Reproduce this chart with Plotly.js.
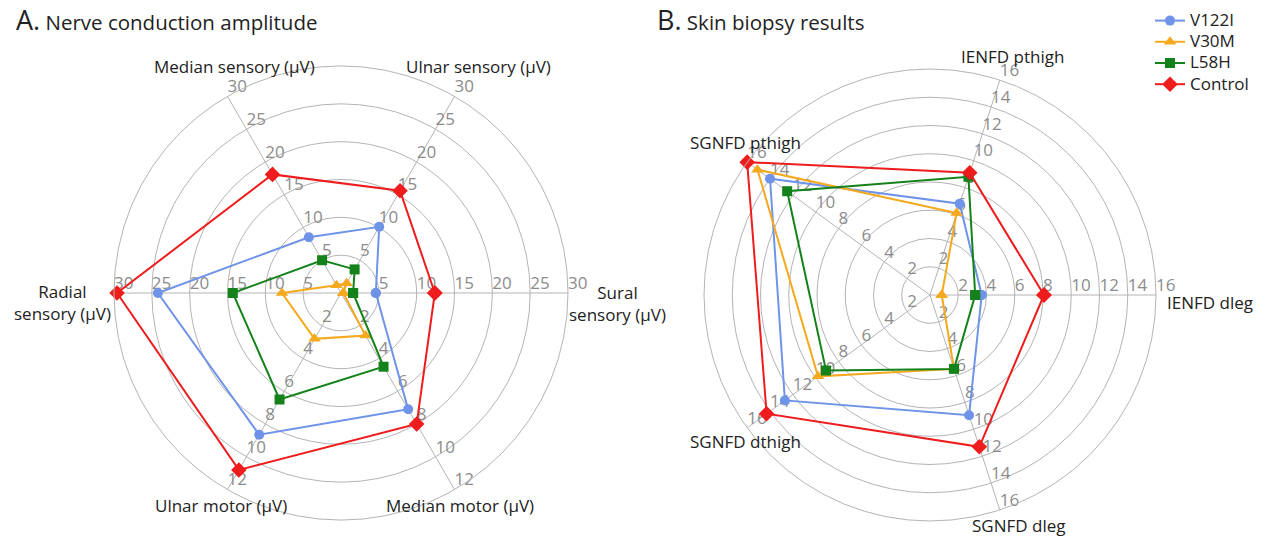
<!DOCTYPE html>
<html>
<head>
<meta charset="utf-8">
<script src="https://cdn.plot.ly/plotly-3.0.1.min.js"></script>
<style>html,body{margin:0;padding:0;background:#fff;}#chart{width:1267px;height:540px;}</style>
</head>
<body>
<div id="chart"></div>
<script>
// ---------- DATA ----------
// Panel A: Nerve conduction amplitude
const axesA = ['Sural sensory (µV)', 'Ulnar sensory (µV)', 'Median sensory (µV)', 'Radial sensory (µV)', 'Ulnar motor (µV)', 'Median motor (µV)'];
const maxA = [30, 30, 30, 30, 12, 12];
const ticksSensory = [5, 10, 15, 20, 25, 30];
const ticksMotor = [2, 4, 6, 8, 10, 12];
const V122I_A = [4.6, 10.1, 8.5, 24.2, 8.65, 7.1];
const V30M_A = [0.3, 1.5, 1.2, 7.8, 2.8, 2.6];
const L58H_A = [1.6, 3.6, 5.0, 14.3, 6.5, 4.5];
const Control_A = [12.4, 15.6, 18.1, 29.6, 10.8, 8.0];

// Panel B: Skin biopsy results
const axesB = ['IENFD dleg', 'IENFD pthigh', 'SGNFD pthigh', 'SGNFD dthigh', 'SGNFD dleg'];
const maxB = [16, 16, 16, 16, 16];
const ticksB = [2, 4, 6, 8, 10, 12, 14, 16];
const V122I_B = [3.66, 6.8, 14.0, 12.7, 8.95];
const V30M_B = [0.83, 6.1, 15.1, 9.8, 5.5];
const L58H_B = [3.2, 8.8, 12.5, 9.1, 5.5];
const Control_B = [8.07, 9.1, 16.0, 14.3, 11.3];

const seriesNames = ['V122I', 'V30M', 'L58H', 'Control'];

// ---------- STYLE ----------
const colors = ['#6f93e8', '#f5a91f', '#14821a', '#ee1c1c'];
const symbols = ['circle', 'triangle-up', 'square', 'diamond'];
const msize = [10, 11, 10, 12];
const gridColor = '#b4b4b4';
const tickColor = '#8c8c8c';
const FONT = 'Open Sans, Noto Sans, sans-serif';

const ringsA = 6, ringsB = 8;
const anglesA = axesA.map((_, i) => i * 360 / axesA.length);
const anglesB = axesB.map((_, i) => i * 360 / axesB.length);

function norm(vals, maxs, rings) { return vals.map((v, i) => v / maxs[i] * rings); }
function close(a) { return a.concat([a[0]]); }

const traces = [];
const dataA = [V122I_A, V30M_A, L58H_A, Control_A];
const dataB = [V122I_B, V30M_B, L58H_B, Control_B];

// tick label traces
function tickTrace(subplot, angles, tickSets, maxs, rings) {
  const r = [], th = [], tx = [];
  angles.forEach((ang, i) => {
    tickSets[i].forEach(t => { r.push(t / maxs[i] * rings); th.push(ang); tx.push(String(t)); });
  });
  return {type: 'scatterpolar', subplot: subplot, mode: 'text', r: r, theta: th, text: tx,
    textposition: 'top right', textfont: {family: FONT, size: 17, color: tickColor},
    hoverinfo: 'skip', showlegend: false, cliponaxis: false};
}
traces.push(tickTrace('polar', anglesA, [ticksSensory, ticksSensory, ticksSensory, ticksSensory, ticksMotor, ticksMotor], maxA, ringsA));
traces.push(tickTrace('polar2', anglesB, axesB.map(() => ticksB), maxB, ringsB));

seriesNames.forEach((name, k) => {
  traces.push({type: 'scatterpolar', subplot: 'polar', name: '<span style="font-size:17px">' + name + '</span>',
    mode: 'lines+markers',
    r: close(norm(dataA[k], maxA, ringsA)), theta: close(anglesA),
    line: {color: colors[k], width: 2}, marker: {color: colors[k], symbol: symbols[k], size: msize[k]},
    cliponaxis: false, showlegend: true});
});
seriesNames.forEach((name, k) => {
  traces.push({type: 'scatterpolar', subplot: 'polar2', name: name, mode: 'lines+markers',
    r: close(norm(dataB[k], maxB, ringsB)), theta: close(anglesB),
    line: {color: colors[k], width: 2}, marker: {color: colors[k], symbol: symbols[k], size: msize[k]},
    cliponaxis: false, showlegend: false});
});

function polarCfg(domx, domy, rings, angles) {
  return {
    domain: {x: domx, y: domy},
    bgcolor: '#ffffff',
    radialaxis: {range: [0, rings], tickvals: Array.from({length: rings}, (_, i) => i + 1),
      showticklabels: false, ticks: '', showline: false, gridcolor: gridColor, gridwidth: 1},
    angularaxis: {tickvals: angles, showticklabels: false, ticks: '', rotation: 0,
      direction: 'counterclockwise', gridcolor: gridColor, gridwidth: 1,
      showline: true, linecolor: gridColor, linewidth: 1}
  };
}

const W = 1267, H = 540;
function px(x) { return x / W; }
function py(y) { return 1 - y / H; }

function label(text, x, y, opts) {
  return Object.assign({text: text, x: px(x), y: py(y), xref: 'paper', yref: 'paper',
    showarrow: false, xanchor: 'center', yanchor: 'middle',
    font: {family: FONT, size: 17, color: '#222'}}, opts || {});
}

const annotations = [
  label('<span style="font-size:27px">A.</span> Nerve conduction amplitude', 14, 20, {xanchor: 'left', font: {family: FONT, size: 20.5, color: '#222'}}),
  label('<span style="font-size:27px">B.</span> Skin biopsy results', 655, 20, {xanchor: 'left', font: {family: FONT, size: 20.5, color: '#222'}}),
  label('Median sensory (µV)', 235, 66),
  label('Ulnar sensory (µV)', 478, 66),
  label('Sural<br>sensory (µV)', 617, 303),
  label('Radial<br>sensory (µV)', 62, 302),
  label('Ulnar motor (µV)', 221, 505),
  label('Median motor (µV)', 460, 505),
  label('IENFD pthigh', 1012, 56),
  label('IENFD dleg', 1210, 302),
  label('SGNFD pthigh', 745, 142),
  label('SGNFD dthigh', 745, 441),
  label('SGNFD dleg', 1018, 525)
];

const cA = [341, 293], RA = 227;
const cB = [930, 295], RB = 226;

const layout = {
  width: W, height: H,
  margin: {l: 0, r: 0, t: 0, b: 0, pad: 0},
  paper_bgcolor: '#ffffff',
  font: {family: FONT, color: '#222'},
  polar: polarCfg([px(cA[0] - RA), px(cA[0] + RA)], [py(cA[1] + RA), py(cA[1] - RA)], ringsA, anglesA),
  polar2: polarCfg([px(cB[0] - RB), px(cB[0] + RB)], [py(cB[1] + RB), py(cB[1] - RB)], ringsB, anglesB),
  showlegend: true,
  legend: {x: px(1150), y: py(5), xanchor: 'left', yanchor: 'top', bgcolor: 'rgba(0,0,0,0)',
    font: {family: FONT, size: 14, color: '#222'}},
  annotations: annotations
};

Plotly.newPlot('chart', traces, layout, {displayModeBar: false, staticPlot: true});
</script>
</body>
</html>
